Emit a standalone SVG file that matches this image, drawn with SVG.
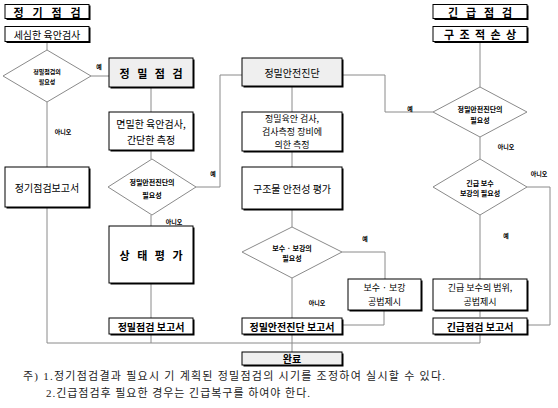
<svg xmlns="http://www.w3.org/2000/svg" width="558" height="408" viewBox="0 0 558 408">
<style>
.c{fill:none;stroke:#8a8a8a;stroke-width:1}
.b{fill:#fff;stroke:#000;stroke-width:1}
.g{fill:#efefef;stroke:#000;stroke-width:1}
.sh{fill:#000}
.d{fill:#fff;stroke:#8a8a8a;stroke-width:1}
text{font-family:"Noto Sans CJK KR","Noto Sans",sans-serif;fill:#000;text-anchor:middle;dominant-baseline:central}
.t{font-size:10px}
.t2{font-size:9px}
.tb{font-size:10px;font-weight:bold}
.h{font-size:11px;font-weight:bold}
.s{font-size:6px;font-weight:bold}
.m{font-size:7px;font-weight:bold}
.l{font-size:6px;font-weight:bold}
.n{font-family:"Liberation Serif","Noto Sans CJK KR",serif;font-size:11px;text-anchor:start;dominant-baseline:auto;fill:#222}
</style>
<g id="connectors">
<path class="c" d="M47,42V50"/>
<path class="c" d="M91,76H109"/>
<path class="c" d="M47,102V167"/>
<path class="c" d="M47,207V343H480"/>
<path class="c" d="M151,87V112"/>
<path class="c" d="M151,150V159"/>
<path class="c" d="M196,187H220V75H242"/>
<path class="c" d="M151,215V226"/>
<path class="c" d="M151,283V318"/>
<path class="c" d="M151,334V343"/>
<path class="c" d="M292,86V112"/>
<path class="c" d="M292,151V167"/>
<path class="c" d="M292,209V227"/>
<path class="c" d="M342,252H385V279"/>
<path class="c" d="M292,278V318"/>
<path class="c" d="M384,310V325H343"/>
<path class="c" d="M292,334V352"/>
<path class="c" d="M480,42V87"/>
<path class="c" d="M433,112H385V75H342"/>
<path class="c" d="M480,137V159"/>
<path class="c" d="M527,187H550V325H528"/>
<path class="c" d="M480,215V279"/>
<path class="c" d="M480,310V317"/>
<path class="c" d="M480,334V343"/>
</g>
<g id="lbl">
<text class="l" x="99" y="66">예</text>
<text class="l" x="63" y="131">아니오</text>
<text class="l" x="213" y="173">예</text>
<text class="l" x="174" y="221">아니오</text>
<text class="l" x="365" y="238">예</text>
<text class="l" x="317" y="302">아니오</text>
<text class="l" x="410" y="108">예</text>
<text class="l" x="506" y="146">아니오</text>
<text class="l" x="539" y="173">아니오</text>
<text class="l" x="506" y="235">예</text>
</g>
<g id="n-jeonggi"><rect class="sh" x="6.5" y="5.5" width="84" height="14.5"/><rect class="b" x="5" y="4.5" width="84" height="14"/><text class="h" x="47" y="11.5" textLength="67" lengthAdjust="spacing">정 기 점 검</text></g>
<g id="n-sesim"><rect class="sh" x="6.5" y="27.5" width="84" height="15.5"/><rect class="b" x="5" y="26.5" width="84" height="15"/><text class="t" x="47" y="34">세심한 육안검사</text></g>
<g id="n-d1"><polygon class="d" points="47,50 91,76 47,102 3,76"/><text class="s" x="47" y="71">정밀점검의</text><text class="s" x="47" y="81">필요성</text></g>
<g id="n-jeonggi-report"><rect class="sh" x="6.5" y="168.5" width="84" height="40"/><rect class="b" x="5" y="167" width="84" height="40"/><text class="t" x="47" y="187">정기점검보고서</text></g>
<g id="n-jeongmil"><rect class="sh" x="110.5" y="59.5" width="84" height="29"/><rect class="g" x="109" y="58" width="84" height="29"/><text class="h" x="151" y="72.5" textLength="63" lengthAdjust="spacing">정 밀 점 검</text></g>
<g id="n-myeonmil"><rect class="sh" x="110.5" y="113.5" width="84" height="38"/><rect class="b" x="109" y="112" width="84" height="38"/><text class="t" x="151" y="123.5">면밀한 육안검사,</text><text class="t" x="151" y="139.5">간단한 측정</text></g>
<g id="n-d2"><polygon class="d" points="152,159 196,187 152,215 108,187"/><text class="m" x="152" y="182">정밀안전진단의</text><text class="m" x="152" y="195">필요성</text></g>
<g id="n-sangtae"><rect class="sh" x="110.5" y="227.5" width="84" height="57"/><rect class="b" x="109" y="226" width="84" height="57"/><text class="h" x="151" y="254.5" textLength="63" lengthAdjust="spacing">상 태 평 가</text></g>
<g id="n-jeongmil-report"><rect class="sh" x="110.5" y="319.5" width="84" height="16"/><rect class="b" x="109" y="318" width="84" height="16"/><text class="tb" x="151" y="326">정밀점검 보고서</text></g>
<g id="n-jindan"><rect class="sh" x="243.5" y="59.5" width="100" height="28"/><rect class="g" x="242" y="58" width="100" height="28"/><text class="t" x="292" y="72">정밀안전진단</text></g>
<g id="n-yukan"><rect class="sh" x="243.5" y="113.5" width="100" height="39"/><rect class="b" x="242" y="112" width="100" height="39"/><text class="t2" x="292" y="118.5">정밀육안 검사,</text><text class="t2" x="292" y="131.5">검사측정 장비에</text><text class="t2" x="292" y="144.5">의한 측정</text></g>
<g id="n-gujo"><rect class="sh" x="243.5" y="168.5" width="100" height="42"/><rect class="b" x="242" y="167" width="100" height="42"/><text class="t" x="292" y="188">구조물 안전성 평가</text></g>
<g id="n-d3"><polygon class="d" points="292,227 342,252 292,278 242,252"/><text class="m" x="292" y="248">보수 · 보강의</text><text class="m" x="292" y="258">필요성</text></g>
<g id="n-bosu"><rect class="sh" x="349.5" y="280.5" width="73" height="31"/><rect class="b" x="348" y="279" width="73" height="31"/><text class="t2" x="384.5" y="287.5">보수 · 보강</text><text class="t2" x="384.5" y="301.5">공법제시</text></g>
<g id="n-jindan-report"><rect class="sh" x="243.5" y="319.5" width="100" height="16"/><rect class="b" x="242" y="318" width="100" height="16"/><text class="tb" x="292" y="326">정밀안전진단 보고서</text></g>
<g id="n-done"><rect class="sh" x="243.5" y="353.5" width="100" height="13"/><rect class="g" x="242" y="352" width="100" height="13"/><text class="tb" x="292" y="358.5">완료</text></g>
<g id="n-gingeup"><rect class="sh" x="434.5" y="5.5" width="94" height="14.5"/><rect class="b" x="433" y="4.5" width="94" height="14"/><text class="h" x="480" y="11.5" textLength="64" lengthAdjust="spacing">긴 급 점 검</text></g>
<g id="n-sonsang"><rect class="sh" x="434.5" y="27.5" width="94" height="15.5"/><rect class="b" x="433" y="26.5" width="94" height="15"/><text class="h" x="480" y="34" textLength="72" lengthAdjust="spacing">구 조 적 손 상</text></g>
<g id="n-d4"><polygon class="d" points="480,87 527,112 480,137 433,112"/><text class="m" x="480" y="109">정밀안전진단의</text><text class="m" x="480" y="120">필요성</text></g>
<g id="n-d5"><polygon class="d" points="480,159 527,187 480,215 433,187"/><text class="m" x="480" y="183">긴급 보수</text><text class="m" x="480" y="193">보강의 필요성</text></g>
<g id="n-gingeup-bosu"><rect class="sh" x="434.5" y="280.5" width="94" height="31"/><rect class="b" x="433" y="279" width="94" height="31"/><text class="t2" x="480" y="287.5">긴급 보수의 범위,</text><text class="t2" x="480" y="301.5">공법제시</text></g>
<g id="n-gingeup-report"><rect class="sh" x="434.5" y="319.5" width="94" height="16"/><rect class="b" x="433" y="318" width="94" height="16"/><text class="tb" x="480" y="326">긴급점검 보고서</text></g>
<g id="notes">
<text class="n" x="23" y="380" textLength="422" lengthAdjust="spacing">주) 1.정기점검결과 필요시 기 계획된 정밀점검의 시기를 조정하여 실시할 수 있다.</text>
<text class="n" x="46" y="397" textLength="264" lengthAdjust="spacing">2.긴급점검후 필요한 경우는 긴급복구를 하여야 한다.</text>
</g>
</svg>
